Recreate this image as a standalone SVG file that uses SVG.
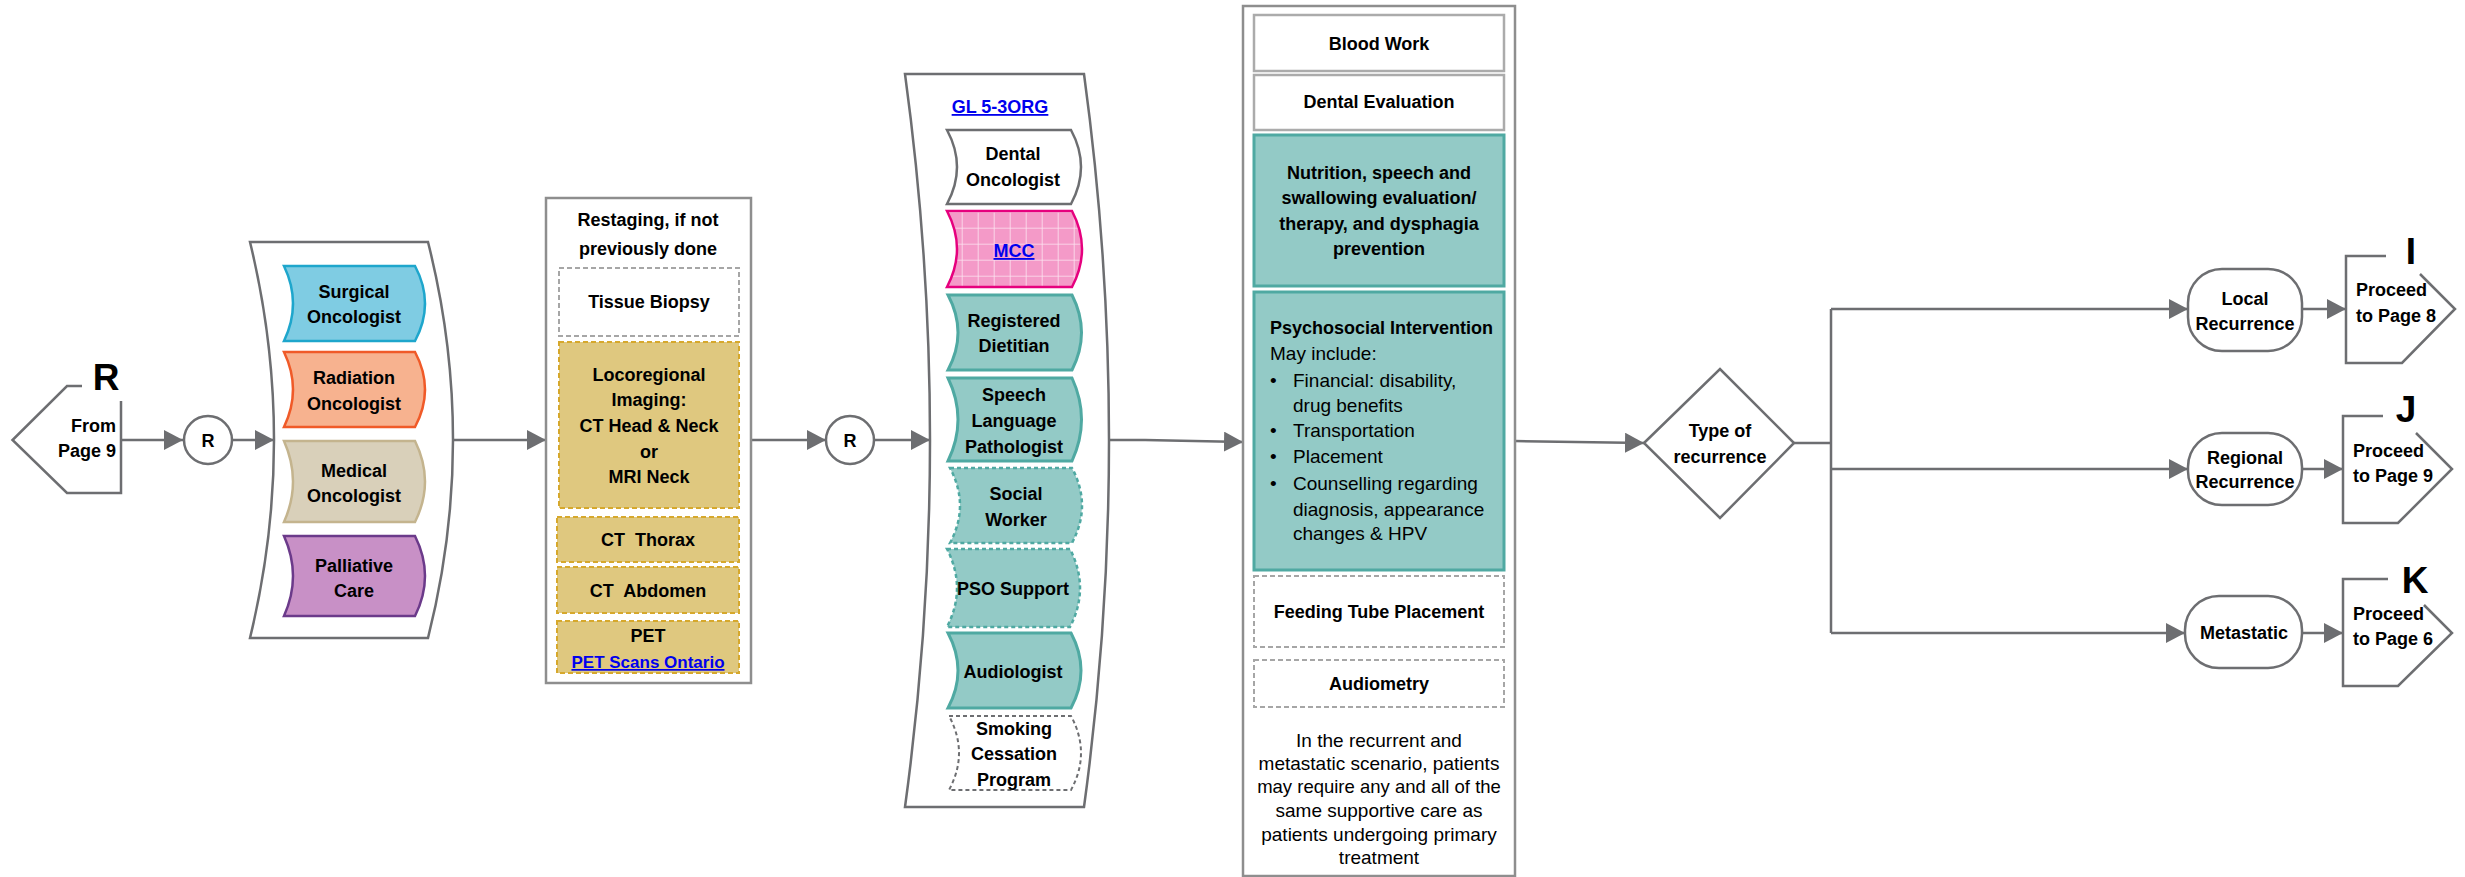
<svg xmlns="http://www.w3.org/2000/svg" width="2465" height="877" viewBox="0 0 2465 877">
<style>
.b{font-family:"Liberation Sans",Arial,sans-serif;font-weight:bold;font-size:18px;fill:#000;text-anchor:middle}
.r{font-family:"Liberation Sans",Arial,sans-serif;font-size:19px;fill:#000}
.c{text-anchor:middle}
.s{text-anchor:start}
.e{text-anchor:end}
.big{font-family:"Liberation Sans",Arial,sans-serif;font-weight:bold;font-size:37px;fill:#000;text-anchor:middle}
.lk{fill:#0000EE;text-decoration:underline}
.ln{fill:none;stroke:#6D6E71;stroke-width:2.5}
.arr{fill:none;stroke:#6D6E71;stroke-width:2.5;marker-end:url(#ah)}
.cont{fill:#fff;stroke:#6D6E71;stroke-width:2.5}
.box{fill:#fff;stroke:#8E8E8E;stroke-width:2.5}
.wbox{fill:#fff;stroke:#ABABAB;stroke-width:2.5}
.gd{fill:#fff;stroke:#A6A6A6;stroke-width:2;stroke-dasharray:5 3}
.gold{fill:#DFC87F;stroke:#D6A82C;stroke-width:2;stroke-dasharray:5 3}
.teal{fill:#93CAC6;stroke:#4FA9A2;stroke-width:3}
.teald{fill:#93CAC6;stroke:#4FA9A2;stroke-width:2.5;stroke-dasharray:4 3}
.rr{fill:#fff;stroke:#6D6E71;stroke-width:2.5}
</style>
<defs>
<marker id="ah" markerWidth="20" markerHeight="20" refX="19" refY="10" orient="auto" markerUnits="userSpaceOnUse">
<path d="M0,0 L19,10 L0,20 Z" fill="#6D6E71"/>
</marker>
<pattern id="grid" width="16" height="16" patternUnits="userSpaceOnUse" x="1.7" y="3.7">
<rect width="16" height="16" fill="#F49AC8"/>
<path d="M0,0 H16 M0,0 V16" stroke="#FCE4F0" stroke-width="1.6"/>
</pattern>
</defs>

<g id="connectors">
<path class="arr" d="M121,440 L183,440"/>
<path class="arr" d="M232,440 L274,440"/>
<path class="arr" d="M453,440 L546,440"/>
<path class="arr" d="M751,440 L826,440"/>
<path class="arr" d="M874,440 L930,440"/>
<path class="arr" d="M1109,440 L1145,440 L1243,442"/>
<path class="arr" d="M1515,441 L1644,443"/>
<path class="ln" d="M1794,443 L1831,443 M1831,309 L1831,633"/>
<path class="arr" d="M1831,309 L2188,309"/>
<path class="arr" d="M1831,469 L2188,469"/>
<path class="arr" d="M1831,633 L2185,633"/>
<path class="arr" d="M2302,309 L2346,309"/>
<path class="arr" d="M2302,469 L2343,469"/>
<path class="arr" d="M2302,633 L2343,633"/>
</g>

<g id="from-page-9">
<path class="ln" d="M82,386 L67,386 L12.5,440 L67,493 L121,493 L121,401"/>
<text class="big" x="106" y="390">R</text>
<text class="b e" x="116" y="432">From</text>
<text class="b e" x="116" y="457">Page 9</text>
</g>

<g id="circle-r1">
<circle class="rr" cx="208" cy="440" r="24"/>
<text class="b" x="208" y="447">R</text>
</g>

<g id="team1">
<path class="cont" d="M250,242 L428,242 Q478,440 428,638 L250,638 Q298,440 250,242 Z"/>
<g id="surgical">
<path d="M284,266 L415,266 Q435,303.5 415,341 L284,341 Q302,303.5 284,266 Z" fill="#7FCCE3" stroke="#1EA6CC" stroke-width="2.5"/>
<text class="b" x="354" y="298">Surgical</text>
<text class="b" x="354" y="323">Oncologist</text>
</g>
<g id="radiation">
<path d="M284,352 L415,352 Q435,389.5 415,427 L284,427 Q302,389.5 284,352 Z" fill="#F7B28F" stroke="#F05A28" stroke-width="2.5"/>
<text class="b" x="354" y="384">Radiation</text>
<text class="b" x="354" y="410">Oncologist</text>
</g>
<g id="medical">
<path d="M284,441 L415,441 Q435,481.5 415,522 L284,522 Q302,481.5 284,441 Z" fill="#D9D0BA" stroke="#C4B48E" stroke-width="2.5"/>
<text class="b" x="354" y="477">Medical</text>
<text class="b" x="354" y="502">Oncologist</text>
</g>
<g id="palliative">
<path d="M284,536 L415,536 Q435,576 415,616 L284,616 Q302,576 284,536 Z" fill="#C890C6" stroke="#6B3A8A" stroke-width="2.5"/>
<text class="b" x="354" y="572">Palliative</text>
<text class="b" x="354" y="597">Care</text>
</g>
</g>

<g id="restaging">
<rect class="box" x="546" y="198" width="205" height="485"/>
<text class="b" x="648" y="226">Restaging, if not</text>
<text class="b" x="648" y="255">previously done</text>
<g id="tissue-biopsy">
<rect class="gd" x="559" y="268" width="180" height="68"/>
<text class="b" x="649" y="308">Tissue Biopsy</text>
</g>
<g id="locoregional">
<rect class="gold" x="559" y="342" width="180" height="166"/>
<text class="b" x="649" y="381">Locoregional</text>
<text class="b" x="649" y="406">Imaging:</text>
<text class="b" x="649" y="432">CT Head &amp; Neck</text>
<text class="b" x="649" y="458">or</text>
<text class="b" x="649" y="483">MRI Neck</text>
</g>
<g id="ct-thorax">
<rect class="gold" x="557" y="517" width="182" height="45"/>
<text class="b" x="648" y="546" xml:space="preserve">CT  Thorax</text>
</g>
<g id="ct-abdomen">
<rect class="gold" x="557" y="567" width="182" height="46"/>
<text class="b" x="648" y="597" xml:space="preserve">CT  Abdomen</text>
</g>
<g id="pet">
<rect class="gold" x="557" y="621" width="182" height="52"/>
<text class="b" x="648" y="642">PET</text>
<text class="b lk" x="648" y="668" style="font-size:17px">PET Scans Ontario</text>
</g>
</g>

<g id="circle-r2">
<circle class="rr" cx="850" cy="440" r="24"/>
<text class="b" x="850" y="447">R</text>
</g>

<g id="team2">
<path class="cont" d="M905,74 L1084,74 Q1134,440.5 1084,807 L905,807 Q955,440.5 905,74 Z"/>
<text class="b lk" x="1000" y="113">GL 5-3ORG</text>
<g id="dental-oncologist">
<path d="M947,130 L1071,130 Q1091,167 1071,204 L947,204 Q967,167 947,130 Z" fill="#fff" stroke="#6D6E71" stroke-width="2.5"/>
<text class="b" x="1013" y="160">Dental</text>
<text class="b" x="1013" y="186">Oncologist</text>
</g>
<g id="mcc">
<path d="M947,211 L1072,211 Q1092,249 1072,287 L947,287 Q967,249 947,211 Z" fill="url(#grid)" stroke="#E6007E" stroke-width="2.5"/>
<text class="b lk" x="1014" y="257">MCC</text>
</g>
<g id="dietitian">
<path class="teal" d="M948,295 L1072,295 Q1091,332.5 1072,370 L948,370 Q968,332.5 948,295 Z"/>
<text class="b" x="1014" y="327">Registered</text>
<text class="b" x="1014" y="352">Dietitian</text>
</g>
<g id="slp">
<path class="teal" d="M948,378 L1072,378 Q1091,419.5 1072,461 L948,461 Q968,419.5 948,378 Z"/>
<text class="b" x="1014" y="401">Speech</text>
<text class="b" x="1014" y="427">Language</text>
<text class="b" x="1014" y="453">Pathologist</text>
</g>
<g id="social-worker">
<path class="teald" d="M950,468 L1072,468 Q1092,505.5 1072,543 L950,543 Q970,505.5 950,468 Z"/>
<text class="b" x="1016" y="500">Social</text>
<text class="b" x="1016" y="526">Worker</text>
</g>
<g id="pso-support">
<path class="teald" d="M947,549 L1070,549 Q1090,588 1070,627 L947,627 Q967,588 947,549 Z"/>
<text class="b" x="1013" y="595">PSO Support</text>
</g>
<g id="audiologist">
<path class="teal" d="M948,633 L1071,633 Q1091,670.5 1071,708 L948,708 Q968,670.5 948,633 Z"/>
<text class="b" x="1013" y="678">Audiologist</text>
</g>
<g id="smoking">
<path d="M949,716 L1071,716 Q1091,753 1071,790 L949,790 Q969,753 949,716 Z" fill="#fff" stroke="#6D6E71" stroke-width="2" stroke-dasharray="4 3"/>
<text class="b" x="1014" y="735">Smoking</text>
<text class="b" x="1014" y="760">Cessation</text>
<text class="b" x="1014" y="786">Program</text>
</g>
</g>

<g id="supportive-care">
<rect class="box" x="1243" y="6" width="272" height="870"/>
<g id="blood-work">
<rect class="wbox" x="1254" y="15" width="250" height="56"/>
<text class="b" x="1379" y="50">Blood Work</text>
</g>
<g id="dental-evaluation">
<rect class="wbox" x="1254" y="75" width="250" height="55"/>
<text class="b" x="1379" y="108">Dental Evaluation</text>
</g>
<g id="nutrition">
<rect class="teal" x="1254" y="135" width="250" height="151"/>
<text class="b" x="1379" y="179">Nutrition, speech and</text>
<text class="b" x="1379" y="204">swallowing evaluation/</text>
<text class="b" x="1379" y="230">therapy, and dysphagia</text>
<text class="b" x="1379" y="255">prevention</text>
</g>
<g id="psychosocial">
<rect class="teal" x="1254" y="292" width="250" height="278"/>
<text class="b s" x="1270" y="334">Psychosocial Intervention</text>
<text class="r s" x="1270" y="360">May include:</text>
<text class="r s" x="1270" y="387">•</text>
<text class="r s" x="1293" y="387">Financial: disability,</text>
<text class="r s" x="1293" y="412">drug benefits</text>
<text class="r s" x="1270" y="437">•</text>
<text class="r s" x="1293" y="437">Transportation</text>
<text class="r s" x="1270" y="463">•</text>
<text class="r s" x="1293" y="463">Placement</text>
<text class="r s" x="1270" y="490">•</text>
<text class="r s" x="1293" y="490">Counselling regarding</text>
<text class="r s" x="1293" y="516">diagnosis, appearance</text>
<text class="r s" x="1293" y="540">changes &amp; HPV</text>
</g>
<g id="feeding-tube">
<rect class="gd" x="1254" y="576" width="250" height="71"/>
<text class="b" x="1379" y="618">Feeding Tube Placement</text>
</g>
<g id="audiometry">
<rect class="gd" x="1254" y="660" width="250" height="47"/>
<text class="b" x="1379" y="690">Audiometry</text>
</g>
<text class="r c" x="1379" y="747">In the recurrent and</text>
<text class="r c" x="1379" y="770">metastatic scenario, patients</text>
<text class="r c" x="1379" y="793" style="font-size:18.5px">may require any and all of the</text>
<text class="r c" x="1379" y="817">same supportive care as</text>
<text class="r c" x="1379" y="841">patients undergoing primary</text>
<text class="r c" x="1379" y="864">treatment</text>
</g>

<g id="type-of-recurrence">
<polygon class="rr" points="1644,443 1720,369 1794,443 1720,518"/>
<text class="b" x="1720" y="437">Type of</text>
<text class="b" x="1720" y="463">recurrence</text>
</g>

<g id="local-recurrence">
<rect class="rr" x="2188" y="269" width="114" height="82" rx="34"/>
<text class="b" x="2245" y="305">Local</text>
<text class="b" x="2245" y="330">Recurrence</text>
</g>
<g id="regional-recurrence">
<rect class="rr" x="2188" y="433" width="114" height="72" rx="34"/>
<text class="b" x="2245" y="464">Regional</text>
<text class="b" x="2245" y="488">Recurrence</text>
</g>
<g id="metastatic">
<rect class="rr" x="2185" y="596" width="117" height="72" rx="34"/>
<text class="b" x="2244" y="639">Metastatic</text>
</g>

<g id="to-page-8">
<path class="ln" d="M2386,256 L2346,256 L2346,363 L2402,363 L2455,309 L2420,274"/>
<text class="big" x="2411" y="264">I</text>
<text class="b s" x="2356" y="296">Proceed</text>
<text class="b s" x="2356" y="322">to Page 8</text>
</g>
<g id="to-page-9">
<path class="ln" d="M2383,416 L2343,416 L2343,523 L2398,523 L2452,469 L2416,433"/>
<text class="big" x="2406" y="422">J</text>
<text class="b s" x="2353" y="457">Proceed</text>
<text class="b s" x="2353" y="482">to Page 9</text>
</g>
<g id="to-page-6">
<path class="ln" d="M2388,579 L2343,579 L2343,686 L2398,686 L2452,633 L2424,605"/>
<text class="big" x="2415" y="593">K</text>
<text class="b s" x="2353" y="620">Proceed</text>
<text class="b s" x="2353" y="645">to Page 6</text>
</g>
</svg>
